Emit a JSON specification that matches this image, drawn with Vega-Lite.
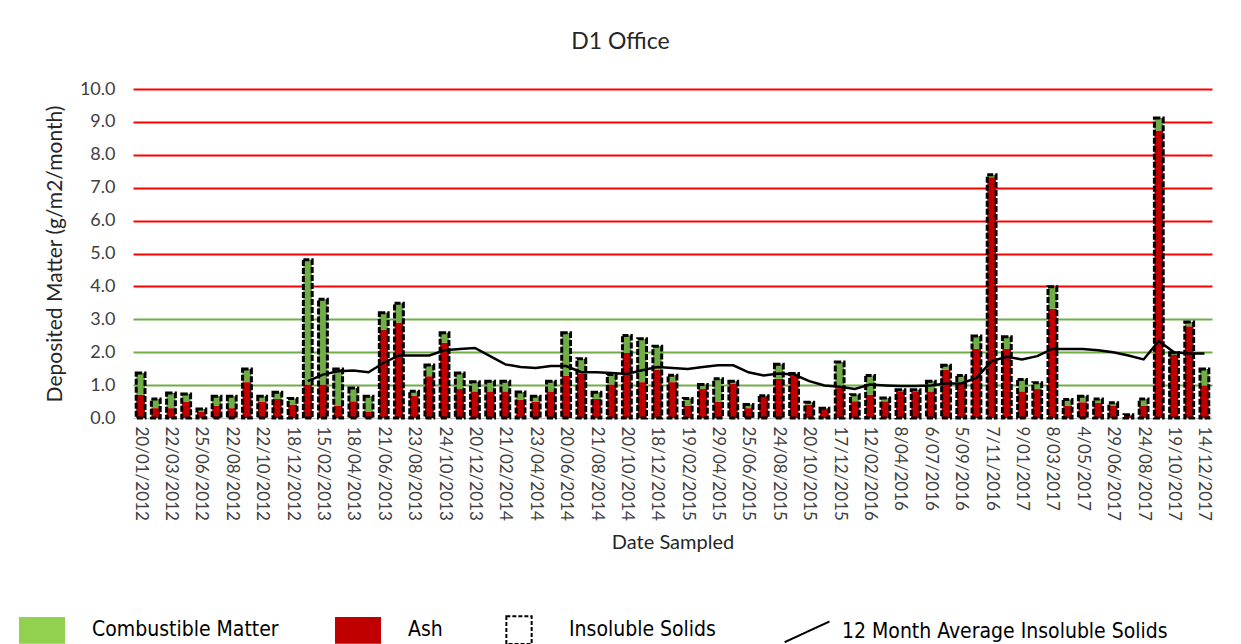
{
  "$schema": "https://vega.github.io/schema/vega-lite/v6.json",
  "width": 1079,
  "height": 329,
  "autosize": "none",
  "padding": {"left": 133, "top": 89, "right": 29, "bottom": 226},
  "background": "white",
  "config": {
    "view": {"stroke": null},
    "font": "Lato",
    "axis": {"labelFont": "Lato", "titleFont": "Lato", "labelColor": "#404040", "titleColor": "#262626", "titleFontWeight": "normal"}
  },
  "title": {
    "text": "D1 Office",
    "fontSize": 23,
    "font": "Lato",
    "fontWeight": "normal",
    "color": "#262626",
    "anchor": "middle",
    "dx": -52,
    "offset": 26
  },
  "data": {
    "values": [
      {"date": "20/01/2012", "Ash": 0.71, "Combustible Matter": 0.66, "total": 1.37, "avg": null},
      {"date": "21/02/2012", "Ash": 0.30, "Combustible Matter": 0.28, "total": 0.58, "avg": null},
      {"date": "22/03/2012", "Ash": 0.30, "Combustible Matter": 0.46, "total": 0.76, "avg": null},
      {"date": "24/04/2012", "Ash": 0.50, "Combustible Matter": 0.23, "total": 0.73, "avg": null},
      {"date": "25/06/2012", "Ash": 0.18, "Combustible Matter": 0.09, "total": 0.27, "avg": null},
      {"date": "24/07/2012", "Ash": 0.38, "Combustible Matter": 0.28, "total": 0.66, "avg": null},
      {"date": "22/08/2012", "Ash": 0.30, "Combustible Matter": 0.36, "total": 0.66, "avg": null},
      {"date": "21/09/2012", "Ash": 1.09, "Combustible Matter": 0.40, "total": 1.49, "avg": null},
      {"date": "22/10/2012", "Ash": 0.50, "Combustible Matter": 0.16, "total": 0.66, "avg": null},
      {"date": "21/11/2012", "Ash": 0.58, "Combustible Matter": 0.20, "total": 0.78, "avg": null},
      {"date": "18/12/2012", "Ash": 0.41, "Combustible Matter": 0.18, "total": 0.59, "avg": null},
      {"date": "17/01/2013", "Ash": 1.02, "Combustible Matter": 3.79, "total": 4.81, "avg": 1.12},
      {"date": "15/02/2013", "Ash": 1.02, "Combustible Matter": 2.59, "total": 3.61, "avg": 1.32},
      {"date": "15/03/2013", "Ash": 0.38, "Combustible Matter": 1.11, "total": 1.49, "avg": 1.42},
      {"date": "18/04/2013", "Ash": 0.51, "Combustible Matter": 0.40, "total": 0.91, "avg": 1.44},
      {"date": "20/05/2013", "Ash": 0.20, "Combustible Matter": 0.46, "total": 0.66, "avg": 1.39},
      {"date": "21/06/2013", "Ash": 2.69, "Combustible Matter": 0.51, "total": 3.20, "avg": 1.68},
      {"date": "22/07/2013", "Ash": 2.90, "Combustible Matter": 0.59, "total": 3.49, "avg": 1.90},
      {"date": "23/08/2013", "Ash": 0.68, "Combustible Matter": 0.13, "total": 0.81, "avg": 1.90},
      {"date": "24/09/2013", "Ash": 1.27, "Combustible Matter": 0.34, "total": 1.61, "avg": 1.90},
      {"date": "24/10/2013", "Ash": 2.29, "Combustible Matter": 0.30, "total": 2.59, "avg": 2.06},
      {"date": "22/11/2013", "Ash": 0.88, "Combustible Matter": 0.49, "total": 1.37, "avg": 2.10},
      {"date": "20/12/2013", "Ash": 0.81, "Combustible Matter": 0.29, "total": 1.10, "avg": 2.13},
      {"date": "22/01/2014", "Ash": 0.81, "Combustible Matter": 0.31, "total": 1.12, "avg": 1.88},
      {"date": "21/02/2014", "Ash": 0.81, "Combustible Matter": 0.31, "total": 1.12, "avg": 1.63},
      {"date": "21/03/2014", "Ash": 0.56, "Combustible Matter": 0.23, "total": 0.79, "avg": 1.55},
      {"date": "23/04/2014", "Ash": 0.49, "Combustible Matter": 0.17, "total": 0.66, "avg": 1.52},
      {"date": "22/05/2014", "Ash": 0.81, "Combustible Matter": 0.31, "total": 1.12, "avg": 1.58},
      {"date": "20/06/2014", "Ash": 1.29, "Combustible Matter": 1.30, "total": 2.59, "avg": 1.58},
      {"date": "21/07/2014", "Ash": 1.35, "Combustible Matter": 0.45, "total": 1.80, "avg": 1.39},
      {"date": "21/08/2014", "Ash": 0.58, "Combustible Matter": 0.20, "total": 0.78, "avg": 1.39},
      {"date": "19/09/2014", "Ash": 1.02, "Combustible Matter": 0.30, "total": 1.32, "avg": 1.37},
      {"date": "20/10/2014", "Ash": 1.98, "Combustible Matter": 0.53, "total": 2.51, "avg": 1.34},
      {"date": "20/11/2014", "Ash": 1.09, "Combustible Matter": 1.32, "total": 2.41, "avg": 1.45},
      {"date": "18/12/2014", "Ash": 1.47, "Combustible Matter": 0.71, "total": 2.18, "avg": 1.55},
      {"date": "20/01/2015", "Ash": 1.09, "Combustible Matter": 0.21, "total": 1.30, "avg": 1.52},
      {"date": "19/02/2015", "Ash": 0.38, "Combustible Matter": 0.21, "total": 0.59, "avg": 1.49},
      {"date": "20/03/2015", "Ash": 0.88, "Combustible Matter": 0.14, "total": 1.02, "avg": 1.55},
      {"date": "29/04/2015", "Ash": 0.49, "Combustible Matter": 0.70, "total": 1.19, "avg": 1.60},
      {"date": "27/05/2015", "Ash": 1.05, "Combustible Matter": 0.07, "total": 1.12, "avg": 1.60},
      {"date": "25/06/2015", "Ash": 0.30, "Combustible Matter": 0.11, "total": 0.41, "avg": 1.39},
      {"date": "24/07/2015", "Ash": 0.66, "Combustible Matter": 0.02, "total": 0.68, "avg": 1.29},
      {"date": "24/08/2015", "Ash": 1.19, "Combustible Matter": 0.44, "total": 1.63, "avg": 1.35},
      {"date": "22/09/2015", "Ash": 1.29, "Combustible Matter": 0.06, "total": 1.35, "avg": 1.32},
      {"date": "20/10/2015", "Ash": 0.41, "Combustible Matter": 0.07, "total": 0.48, "avg": 1.12},
      {"date": "19/11/2015", "Ash": 0.27, "Combustible Matter": 0.03, "total": 0.30, "avg": 0.99},
      {"date": "17/12/2015", "Ash": 0.91, "Combustible Matter": 0.79, "total": 1.70, "avg": 0.95},
      {"date": "15/01/2016", "Ash": 0.51, "Combustible Matter": 0.20, "total": 0.71, "avg": 0.88},
      {"date": "12/02/2016", "Ash": 0.71, "Combustible Matter": 0.58, "total": 1.29, "avg": 1.02},
      {"date": "11/03/2016", "Ash": 0.51, "Combustible Matter": 0.10, "total": 0.61, "avg": 0.99},
      {"date": "8/04/2016", "Ash": 0.81, "Combustible Matter": 0.05, "total": 0.86, "avg": 0.97},
      {"date": "6/05/2016", "Ash": 0.81, "Combustible Matter": 0.05, "total": 0.86, "avg": 0.97},
      {"date": "6/07/2016", "Ash": 0.81, "Combustible Matter": 0.31, "total": 1.12, "avg": 0.99},
      {"date": "5/08/2016", "Ash": 1.47, "Combustible Matter": 0.13, "total": 1.60, "avg": 1.05},
      {"date": "5/09/2016", "Ash": 1.07, "Combustible Matter": 0.22, "total": 1.29, "avg": 1.05},
      {"date": "7/10/2016", "Ash": 2.10, "Combustible Matter": 0.39, "total": 2.49, "avg": 1.22},
      {"date": "7/11/2016", "Ash": 7.32, "Combustible Matter": 0.07, "total": 7.39, "avg": 1.73},
      {"date": "7/12/2016", "Ash": 2.10, "Combustible Matter": 0.37, "total": 2.47, "avg": 1.86},
      {"date": "9/01/2017", "Ash": 0.81, "Combustible Matter": 0.36, "total": 1.17, "avg": 1.78},
      {"date": "8/02/2017", "Ash": 0.88, "Combustible Matter": 0.19, "total": 1.07, "avg": 1.88},
      {"date": "8/03/2017", "Ash": 3.32, "Combustible Matter": 0.67, "total": 3.99, "avg": 2.10},
      {"date": "6/04/2017", "Ash": 0.38, "Combustible Matter": 0.18, "total": 0.56, "avg": 2.10},
      {"date": "4/05/2017", "Ash": 0.48, "Combustible Matter": 0.18, "total": 0.66, "avg": 2.10},
      {"date": "2/06/2017", "Ash": 0.46, "Combustible Matter": 0.12, "total": 0.58, "avg": 2.06},
      {"date": "29/06/2017", "Ash": 0.38, "Combustible Matter": 0.08, "total": 0.46, "avg": 2.00},
      {"date": "27/07/2017", "Ash": 0.06, "Combustible Matter": 0.04, "total": 0.10, "avg": 1.90},
      {"date": "24/08/2017", "Ash": 0.38, "Combustible Matter": 0.20, "total": 0.58, "avg": 1.78},
      {"date": "22/09/2017", "Ash": 8.74, "Combustible Matter": 0.38, "total": 9.12, "avg": 2.34},
      {"date": "19/10/2017", "Ash": 1.92, "Combustible Matter": 0.06, "total": 1.98, "avg": 2.00},
      {"date": "17/11/2017", "Ash": 2.79, "Combustible Matter": 0.13, "total": 2.92, "avg": 1.96},
      {"date": "14/12/2017", "Ash": 0.99, "Combustible Matter": 0.50, "total": 1.49, "avg": 1.96}
    ]
  },
  "encoding": {
    "x": {
      "field": "date",
      "type": "ordinal",
      "sort": null,
      "scale": {"paddingInner": 0.42, "paddingOuter": 0.21},
      "axis": {
        "title": "Date Sampled",
        "titleFontSize": 20,
        "titlePadding": 12,
        "labelAngle": 90,
        "labelFontSize": 17,
        "labelPadding": 8,
        "ticks": false,
        "domainColor": "#BFBFBF",
        "domainWidth": 1,
        "values": ["20/01/2012","22/03/2012","25/06/2012","22/08/2012","22/10/2012","18/12/2012","15/02/2013","18/04/2013","21/06/2013","23/08/2013","24/10/2013","20/12/2013","21/02/2014","23/04/2014","20/06/2014","21/08/2014","20/10/2014","18/12/2014","19/02/2015","29/04/2015","25/06/2015","24/08/2015","20/10/2015","17/12/2015","12/02/2016","8/04/2016","6/07/2016","5/09/2016","7/11/2016","9/01/2017","8/03/2017","4/05/2017","29/06/2017","24/08/2017","19/10/2017","14/12/2017"]
      }
    }
  },
  "layer": [
    {
      "transform": [{"fold": ["Ash", "Combustible Matter"], "as": ["series", "value"]}],
      "mark": {"type": "bar"},
      "encoding": {
        "y": {
          "field": "value",
          "type": "quantitative",
          "stack": "zero",
          "scale": {"domain": [0, 10], "nice": false},
          "axis": {
            "title": "Deposited Matter (g/m2/month)",
            "titleFontSize": 21,
            "titlePadding": 14,
            "labelFontSize": 18,
            "labelPadding": 18,
            "format": ".1f",
            "values": [0, 1, 2, 3, 4, 5, 6, 7, 8, 9, 10],
            "tickCount": 20,
            "labelOverlap": false,
            "ticks": false,
            "domain": false,
            "grid": true,
            "gridWidth": 2,
            "gridColor": {"condition": {"test": "datum.value >= 4", "value": "#FF0000"}, "value": "#70AD47"},
            "gridOpacity": {"condition": {"test": "datum.value === 0", "value": 0}, "value": 1}
          }
        },
        "order": {"field": "series", "sort": "ascending"},
        "fill": {"condition": {"test": "datum.series === 'Ash'", "value": "#C00000"}, "value": "#70AD47"}
      }
    },
    {
      "mark": {"type": "bar", "fill": "transparent", "stroke": "#000000", "strokeWidth": 3, "strokeDash": [6, 2]},
      "encoding": {
        "y": {"field": "total", "type": "quantitative", "scale": {"domain": [0, 10], "nice": false}}
      }
    },
    {
      "transform": [{"filter": "datum.avg != null"}],
      "mark": {"type": "line", "color": "#000000", "strokeWidth": 2.5},
      "encoding": {
        "y": {"field": "avg", "type": "quantitative", "scale": {"domain": [0, 10], "nice": false}}
      }
    },
    {
      "transform": [{"filter": "false"}, {"fold": ["Ash", "Combustible Matter"], "as": ["series", "value"]}],
      "mark": {"type": "point", "filled": true, "opacity": 1},
      "encoding": {
        "fill": {
          "field": "series",
          "type": "nominal",
          "scale": {
            "domain": ["Combustible Matter", "Ash", "Insoluble Solids", "12 Month Average Insoluble Solids"],
            "range": ["#92D050", "#C00000", "transparent", "transparent"]
          },
          "legend": {
            "title": null,
            "orient": "none",
            "legendX": -115,
            "legendY": 517,
            "direction": "horizontal",
            "columns": 4,
            "symbolSize": 2116,
            "labelFont": "DejaVu Sans Condensed, Liberation Sans, sans-serif",
            "labelFontSize": 21,
            "labelColor": "#000000",
            "labelOffset": 26,
            "labelLimit": 500,
            "columnPadding": 52,
            "symbolStrokeWidth": 2,
            "symbolOpacity": 1
          }
        },
        "stroke": {
          "field": "series",
          "type": "nominal",
          "scale": {
            "domain": ["Combustible Matter", "Ash", "Insoluble Solids", "12 Month Average Insoluble Solids"],
            "range": ["transparent", "transparent", "#000000", "#000000"]
          }
        },
        "strokeDash": {
          "field": "series",
          "type": "nominal",
          "scale": {
            "domain": ["Combustible Matter", "Ash", "Insoluble Solids", "12 Month Average Insoluble Solids"],
            "range": [[1, 0], [1, 0], [4, 2], [1, 0]]
          }
        },
        "shape": {
          "field": "series",
          "type": "nominal",
          "scale": {
            "domain": ["Combustible Matter", "Ash", "Insoluble Solids", "12 Month Average Insoluble Solids"],
            "range": ["M-1,-0.58H1V0.58H-1Z", "M-1,-0.58H1V0.58H-1Z", "M-0.55,-0.6H0.55V0.6H-0.55Z", "M-0.32,0.45L1.63,-0.45"]
          }
        }
      }
    }
  ]
}
